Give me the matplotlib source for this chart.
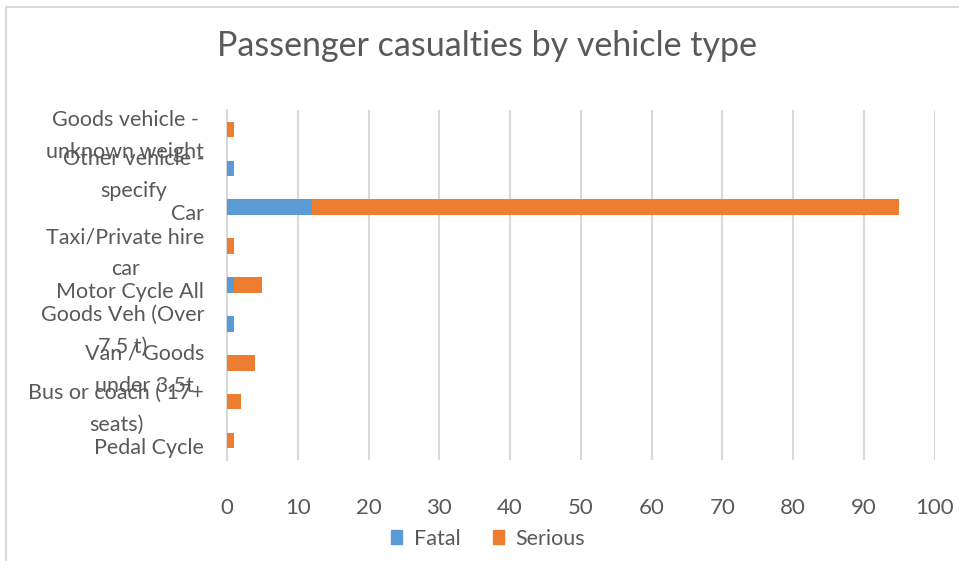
import matplotlib.pyplot as plt
from matplotlib.patches import Rectangle, Patch

# categories listed bottom to top
categories = [
    "Pedal Cycle",
    "Bus or coach ( 17+\nseats)",
    "Van / Goods\nunder 3.5t",
    "Goods Veh (Over\n7.5 t)",
    "Motor Cycle All",
    "Taxi/Private hire\ncar",
    "Car",
    "Other vehicle -\nspecify",
    "Goods vehicle -\nunknown weight",
]
fatal = [0, 0, 0, 1, 1, 0, 12, 1, 0]
serious = [1, 2, 4, 0, 4, 1, 83, 0, 1]

BLUE = "#5b9bd5"
ORANGE = "#ed7d31"
TEXT = "#595959"
GRID = "#d9d9d9"

plt.rcParams["font.family"] = ["Lato", "DejaVu Sans"]

fig = plt.figure(figsize=(9.59, 5.61), dpi=100)
ax = fig.add_axes([0.2367, 0.18, 0.738, 0.624])

y = list(range(len(categories)))
ax.barh(y, fatal, height=0.4, color=BLUE, label="Fatal", zorder=3)
ax.barh(y, serious, left=fatal, height=0.4, color=ORANGE, label="Serious", zorder=3)

ax.set_xlim(0, 100)
ax.set_ylim(-0.5, len(categories) - 0.5)
ax.set_xticks(range(0, 101, 10))
ax.grid(axis="x", color=GRID, linewidth=1.5, zorder=0)
for side in ["top", "right", "bottom"]:
    ax.spines[side].set_visible(False)
ax.spines["left"].set_color(GRID)
ax.spines["left"].set_linewidth(1.5)
ax.tick_params(axis="x", length=0, pad=27, labelsize=16, labelcolor=TEXT)
ax.tick_params(axis="y", length=0, pad=0)
ax.set_yticks(y)
ax.set_yticklabels([])

# wrapped category labels, centred lines in a right-aligned block
for yi, label in zip(y, categories):
    ax.text(-3.2, yi - 0.18, label, ha="right", va="center", multialignment="center",
            fontsize=15.5, color=TEXT, linespacing=1.75)

fig.text(0.508, 0.918, "Passenger casualties by vehicle type", ha="center", va="center",
         fontsize=24.5, color=TEXT)

handles = [Patch(color=BLUE, label="Fatal"), Patch(color=ORANGE, label="Serious")]
fig.legend(handles=handles, loc="center", bbox_to_anchor=(0.509, 0.04), ncol=2,
           frameon=False, fontsize=15.5, labelcolor=TEXT, handlelength=0.5,
           handleheight=0.6, handletextpad=0.55, columnspacing=1.5)

fig.patches.append(Rectangle((6 / 959, -0.1), 1.2, 1.1 - 7 / 561,
                             transform=fig.transFigure, fill=False,
                             edgecolor=GRID, linewidth=1.5))

fig.savefig("out.png", dpi=100)
